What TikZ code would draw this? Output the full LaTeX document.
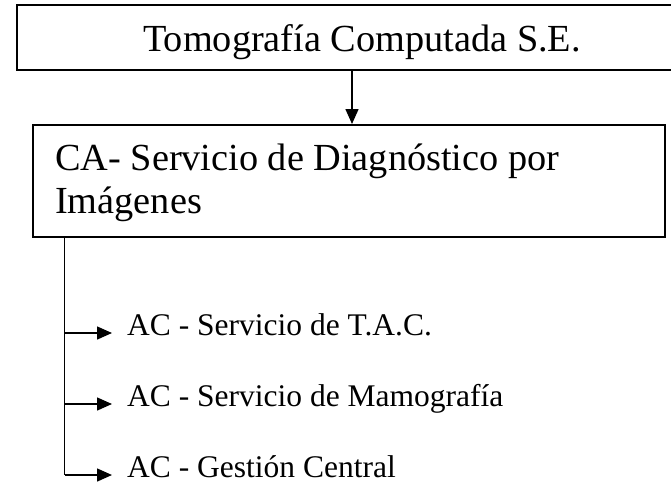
\documentclass[tikz,border=0pt]{standalone}
\usepackage{fontspec}
\setmainfont{Liberation Serif}
\usetikzlibrary{arrows.meta}
\begin{document}
\begin{tikzpicture}[x=1pt,y=-1pt,
  boxstyle/.style={draw=black, line width=2pt, inner sep=0pt, fill=none},
  bigtext/.style={font=\fontsize{38.3}{42.5}\selectfont, inner sep=0pt, anchor=base west},
  smalltext/.style={font=\fontsize{31.5}{36}\selectfont, inner sep=0pt, anchor=base west},
  arr/.style={line width=1.5pt, -{Triangle[width=13pt,length=15pt]}},
  plain/.style={line width=1.5pt}]
\useasboundingbox (0,0) rectangle (671,491);
% top box
\node[boxstyle, minimum width=657pt, minimum height=64.5pt] (top) at (345,37.25) {};
\node[bigtext] (toptext) at (143,51) {Tomografía Computada S.E.};
% second box
\node[boxstyle, minimum width=632pt, minimum height=112pt] (box2) at (349,181) {};
\node[bigtext] (ca1) at (55,170.7) {CA- Servicio de Diagnóstico por};
\node[bigtext] (ca2) at (55,213) {Imágenes};
% arrow between boxes
\coordinate (ax) at (352,0);
\draw[arr] (top.south -| ax) -- (box2.north -| ax);
% branches
\coordinate (vx) at (64.5,0);
\node[smalltext] (b1) at (127,335) {AC - Servicio de T.A.C.};
\node[smalltext] (b2) at (127,406) {AC - Servicio de Mamografía};
\node[smalltext] (b3) at (127,477) {AC - Gestión Central};
\coordinate (t1) at (112,333);
\coordinate (t2) at (112,404);
\coordinate (t3) at (112,475);
\draw[plain] (box2.south -| vx) -- (t3 -| vx);
\draw[arr] (t1 -| vx) -- (t1);
\draw[arr] (t2 -| vx) -- (t2);
\draw[arr] (t3 -| vx) -- (t3);
\end{tikzpicture}
\end{document}
